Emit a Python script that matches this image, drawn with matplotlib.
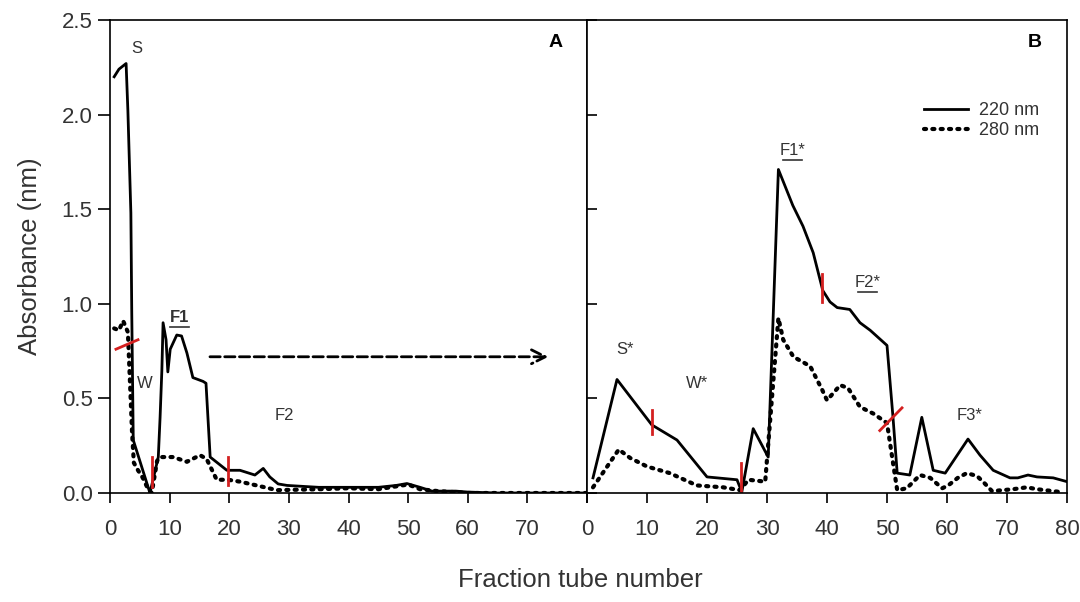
import matplotlib.pyplot as plt

plt.rcParams['font.family'] = ['Liberation Sans', 'DejaVu Sans']

# Panel A - crude extract
frac_a_220 = [0.7, 1.5, 2.7, 3.0, 3.5, 3.65, 3.9, 6.7, 8.1, 8.4, 8.7, 8.9, 9.4, 9.7, 10.1,
              11.2, 12.0, 12.9, 13.9, 15.6, 16.1, 16.8, 17.6, 19.6, 21.8, 24.3, 25.7,
              26.8, 28.2, 29.7, 35, 40, 45, 48, 49.8, 52, 54, 58, 60, 65, 70, 75, 80]
abs_a_220 = [2.20, 2.24, 2.27, 2.02, 1.48, 0.95, 0.28, 0.0, 0.19, 0.40, 0.65, 0.90, 0.81,
             0.64, 0.76, 0.835, 0.83, 0.74, 0.61, 0.59, 0.58, 0.19, 0.17, 0.12, 0.12,
             0.095, 0.13, 0.085, 0.048, 0.04, 0.03, 0.03, 0.03, 0.04, 0.05, 0.03, 0.01,
             0.01, 0.005, 0.0, 0.0, 0.0, 0.0]
frac_a_280 = [0.7, 1.5, 2.2, 3.0, 3.4, 3.7, 4.0, 4.5, 5.5, 6.4, 7.0, 7.9, 8.4, 10.6, 12.9,
              15.1, 16.2, 17.9, 19.8, 21.8, 24.6, 28, 35, 40, 45, 48, 50, 52, 55, 60,
              70, 80]
abs_a_280 = [0.87, 0.86, 0.91, 0.85, 0.55, 0.32, 0.16, 0.13, 0.08, 0.02, 0.0, 0.17, 0.19,
             0.19, 0.165, 0.20, 0.18, 0.07, 0.07, 0.06, 0.04, 0.015, 0.02, 0.025, 0.02,
             0.035, 0.045, 0.02, 0.01, 0.0, 0.0, 0.0]

# Panel B - purified extract
frac_b_220 = [1, 5, 10.8, 15, 20, 25, 25.8, 27.7, 30.2, 31.9, 34.3, 36, 37.7, 39.3, 40.5,
              41.7, 43.8, 45.5, 47.2, 50, 51, 51.7, 53.8, 55.8, 57.7, 59.7, 63.5, 65.5,
              67.7, 70.5, 71.8, 73.5, 75, 77.7, 80]
abs_b_220 = [0.08, 0.60, 0.36, 0.28, 0.085, 0.07, 0.005, 0.34, 0.19, 1.71, 1.52, 1.41,
             1.27, 1.07, 1.01, 0.98, 0.97, 0.90, 0.86, 0.78, 0.40, 0.105, 0.095, 0.40,
             0.12, 0.105, 0.285, 0.20, 0.12, 0.08, 0.08, 0.095, 0.085, 0.08, 0.06]
frac_b_280 = [1, 5.3, 7.2, 10, 13.8, 18.3, 22.7, 25.5, 26.9, 29.7, 31.9, 32.7, 34.4, 37.2,
              39.2, 40, 42.2, 43.5, 45.5, 47.7, 50, 51, 51.7, 53.3, 55.5, 57.2, 59.2,
              60.2, 61.8, 63.3, 65, 66.3, 67.5, 71, 73.3, 75, 79]
abs_b_280 = [0.03, 0.23, 0.185, 0.14, 0.105, 0.04, 0.03, 0.015, 0.07, 0.06, 0.925, 0.81,
             0.72, 0.67, 0.545, 0.49, 0.57, 0.555, 0.455, 0.42, 0.37, 0.16, 0.015, 0.025,
             0.095, 0.08, 0.025, 0.04, 0.08, 0.105, 0.09, 0.05, 0.01, 0.02, 0.03, 0.02,
             0.005]

# red cut marks: ((x0, x1), (y0, y1))
cuts_a = [((1.0, 4.7), (0.76, 0.81)), ((7.0, 7.0), (0.03, 0.19)), ((19.8, 19.8), (0.04, 0.19))]
cuts_b = [((10.8, 10.8), (0.31, 0.44)), ((25.7, 25.7), (0.0, 0.16)),
          ((39.2, 39.2), (1.01, 1.16)), ((48.8, 52.5), (0.33, 0.45))]

# peak labels: (x, y, text, bold, underline)
labels_a = [(4.5, 2.35, 'S', False, False), (5.9, 0.58, 'W', False, False),
            (11.7, 0.93, 'F1', True, True), (29.2, 0.41, 'F2', False, False)]
labels_b = [(6.3, 0.76, 'S*', False, False), (18.3, 0.58, 'W*', False, False),
            (34.3, 1.81, 'F1*', False, True), (46.8, 1.11, 'F2*', False, True),
            (63.8, 0.41, 'F3*', False, False)]

fig = plt.figure(figsize=(10.8, 6.02), dpi=100)
ax_a = fig.add_axes([110 / 1080, 109 / 602, 477 / 1080, 473 / 602])
ax_b = fig.add_axes([587 / 1080, 109 / 602, 480 / 1080, 473 / 602])

dot_style = dict(color='black', lw=3, linestyle=(0, (0.5, 1.5)), dash_capstyle='round')
text_col = '#333333'

for ax, xs, ys, xd, yd, cuts, labels in [
        (ax_a, frac_a_220, abs_a_220, frac_a_280, abs_a_280, cuts_a, labels_a),
        (ax_b, frac_b_220, abs_b_220, frac_b_280, abs_b_280, cuts_b, labels_b)]:
    ax.plot(xs, ys, color='black', lw=2, label='220 nm')
    ax.plot(xd, yd, label='280 nm', **dot_style)
    for cx, cy in cuts:
        ax.plot(cx, cy, color='#d42020', lw=2)
    for x, y, s, bold, under in labels:
        ax.text(x, y, s, ha='center', va='center', fontsize=12, color=text_col,
                fontweight='bold' if bold else 'normal')
        if under:
            ax.plot([x - 1.6, x + 1.6], [y - 0.05, y - 0.05], color=text_col, lw=1.2)
    ax.set_xlim(0, 80)
    ax.set_ylim(0, 2.5)
    ax.set_xticks(range(0, 81, 10))
    ax.tick_params(axis='x', direction='out', length=7, width=1.2, labelsize=16, pad=12,
                   labelcolor=text_col)
    for sp in ax.spines.values():
        sp.set_linewidth(1.2)

ax_a.set_xticklabels([str(v) for v in range(0, 71, 10)] + [''])
ax_a.set_yticks([0, 0.5, 1.0, 1.5, 2.0, 2.5])
ax_a.set_yticklabels(['0.0', '0.5', '1.0', '1.5', '2.0', '2.5'])
ax_a.tick_params(axis='y', direction='out', length=9, width=1.2, labelsize=16,
                 labelcolor=text_col)
ax_a.set_ylabel('Absorbance (nm)', fontsize=18.5, labelpad=14, color=text_col)

ax_b.set_yticks([0, 0.5, 1.0, 1.5, 2.0, 2.5])
ax_b.tick_params(axis='y', direction='in', length=7, width=1.2, labelleft=False)

ax_a.text(74.8, 2.38, 'A', fontsize=14, fontweight='bold', ha='center', va='center')
ax_b.text(74.7, 2.38, 'B', fontsize=14, fontweight='bold', ha='center', va='center')

ax_a.annotate('', xy=(74.0, 0.72), xytext=(16.3, 0.72),
              arrowprops=dict(arrowstyle='->', color='black', lw=2, linestyle='--',
                              mutation_scale=25))

ax_b.legend(loc='upper right', bbox_to_anchor=(0.975, 0.86), frameon=False, fontsize=13,
            handlelength=2.4, labelspacing=0.15, handletextpad=0.6, labelcolor=text_col)

fig.text(580 / 1080, 1 - 580 / 602, 'Fraction tube number', fontsize=18.5,
         ha='center', va='center', color=text_col)

fig.savefig('out.png', dpi=100)
